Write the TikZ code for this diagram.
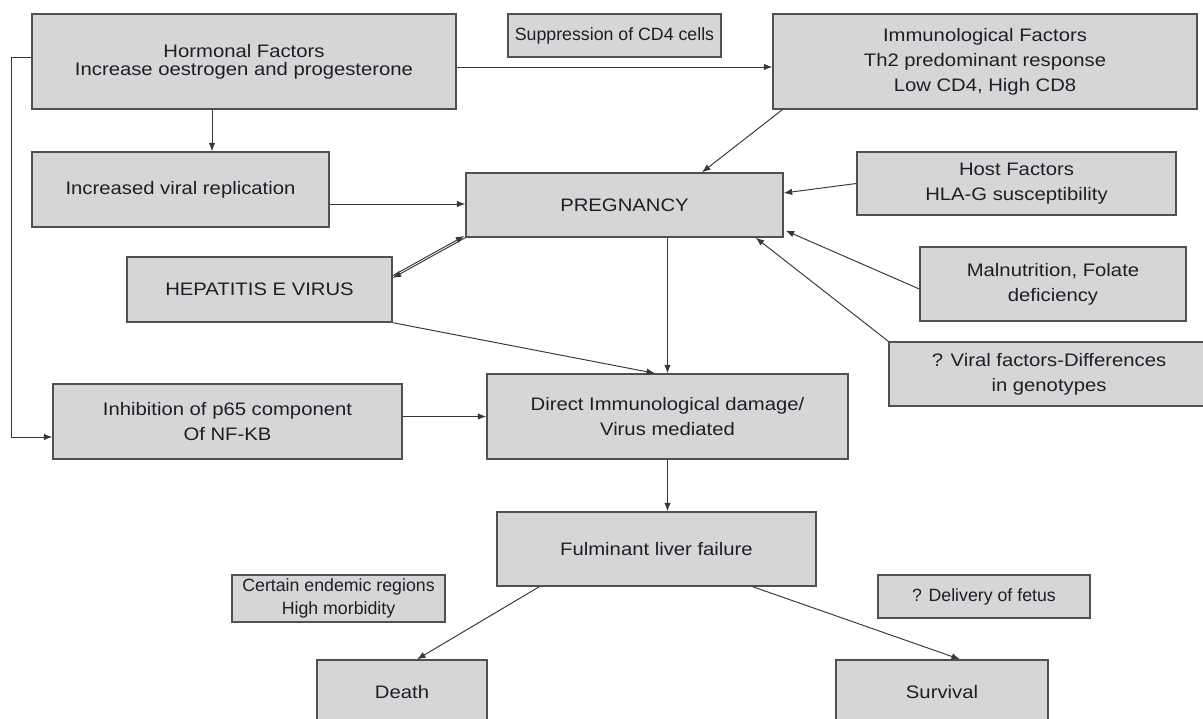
\documentclass[tikz,border=0pt]{standalone}
\usepackage{fontspec}
\setmainfont{Liberation Sans}[FakeStretch=1.12]
\newfontfamily\smallfam{Liberation Sans}
\usetikzlibrary{arrows.meta}

\definecolor{boxfill}{RGB}{214,214,214}
\definecolor{boxline}{RGB}{80,80,80}
\definecolor{linecol}{RGB}{55,55,55}
\definecolor{textcol}{RGB}{30,30,40}

\begin{document}
\begin{tikzpicture}[x=0.02cm,y=-0.02cm,
  box/.style={draw=boxline,fill=boxfill,line width=0.8pt,shape=rectangle,align=center,
    inner sep=0pt,text=textcol,font={\fontsize{10.3}{14.2}\selectfont}},
  note/.style={box,font={\smallfam\fontsize{10.1}{12.9}\selectfont}},
  arr/.style={draw=linecol,line width=0.55pt,-{Latex[length=1.7mm,width=1.3mm]}}]

  \useasboundingbox (0,0) rectangle (1203,719);

  \node [box,minimum width=8.48cm,minimum height=1.9cm,font={\fontsize{10.3}{10.4}\selectfont}]
    (hf) at (244,61.5) {Hormonal Factors\\Increase oestrogen and progesterone};
  \node [note,minimum width=4.26cm,minimum height=0.86cm] (sc) at (614.5,35.5) {Suppression of CD4 cells};
  \node [box,minimum width=8.48cm,minimum height=1.9cm] (im) at (985,61.5)
    {Immunological Factors\\Th2 predominant response\\Low CD4, High CD8};
  \node [box,minimum width=5.94cm,minimum height=1.5cm] (vr) at (180.5,189.5) {Increased viral replication};
  \node [box,minimum width=6.34cm,minimum height=1.28cm] (pr) at (624.5,205) {PREGNANCY};
  \node [box,minimum width=6.38cm,minimum height=1.26cm] (hs) at (1016.5,183.5) {Host Factors\\HLA-G susceptibility};
  \node [box,minimum width=5.3cm,minimum height=1.3cm] (hv) at (259.5,289.5) {HEPATITIS E VIRUS};
  \node [box,minimum width=5.32cm,minimum height=1.48cm] (mn) at (1053,284) {Malnutrition, Folate\\deficiency};
  \node [box,minimum width=6.4cm,minimum height=1.28cm] (vf) at (1049,374) {? Viral factors-Differences\\in genotypes};
  \node [box,minimum width=6.98cm,minimum height=1.5cm] (ip) at (227.5,421.5) {Inhibition of p65 component\\Of NF-KB};
  \node [box,minimum width=7.22cm,minimum height=1.7cm] (di) at (667.5,416.5) {Direct Immunological damage/\\Virus mediated};
  \node [box,minimum width=6.38cm,minimum height=1.48cm] (fl) at (656.5,549) {Fulminant liver failure};
  \node [note,minimum width=4.26cm,minimum height=0.94cm] (er) at (338.5,598.5) {Certain endemic regions\\High morbidity};
  \node [note,minimum width=4.24cm,minimum height=0.86cm] (dv) at (984,596.5) {? Delivery of fetus};
  \node [box,minimum width=3.4cm,minimum height=1.28cm] (dt) at (402,692) {Death};
  \node [box,minimum width=4.24cm,minimum height=1.28cm] (sv) at (942,692) {Survival};

  \draw [arr] ([yshift=-0.11cm]hf.east) -- ([yshift=-0.11cm]hf.east -| im.west);
  \draw [arr] ([xshift=-0.64cm]hf.south) -- ([xshift=-0.64cm]hf.south |- vr.north);
  \draw [arr] ([xshift=0.2cm]im.south west) -- ([xshift=1.55cm]pr.north);
  \draw [arr] ([yshift=-0.29cm]vr.east) -- ([yshift=-0.29cm]vr.east -| pr.west);
  \draw [arr] (hs.west) -- ([yshift=0.24cm]pr.east);
  \draw [arr] (pr.south west) -- ([yshift=0.23cm]hv.east);
  \draw [arr] ([xshift=-0.02cm,yshift=0.265cm]hv.east) -- ([xshift=-0.02cm,yshift=0.035cm]pr.south west);
  \draw [arr] ([yshift=-0.1cm]mn.west) -- ([xshift=0.04cm,yshift=0.14cm]pr.south east);
  \draw [arr] (vf.north west) -- ([xshift=-0.56cm]pr.south east);
  \draw [arr] (pr.south -| di.north) -- (di.north);
  \draw [arr] (hv.south east) -- ([xshift=-0.25cm]di.north);
  \draw [arr] (di.west -| ip.east) -- (di.west);
  \draw [arr] ([yshift=0.09cm]hf.west) -- ++(-0.4cm,0) |- ([yshift=-0.31cm]ip.west);
  \draw [arr] (di.south) -- (di.south |- fl.north);
  \draw [arr] ([xshift=0.86cm]fl.south west) -- ([xshift=0.3cm]dt.north);
  \draw [arr] ([xshift=-1.28cm]fl.south east) -- ([xshift=0.36cm]sv.north);

\end{tikzpicture}
\end{document}
